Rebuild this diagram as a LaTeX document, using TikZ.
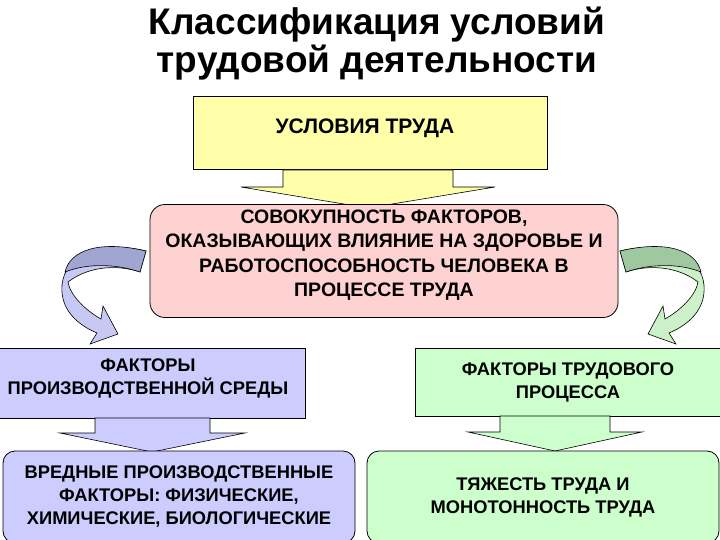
\documentclass[tikz,border=0pt]{standalone}
\usepackage{fontspec}
\setmainfont{Liberation Sans}
\begin{document}
\begin{tikzpicture}[x=1pt,y=-1pt,
  box/.style={draw=black,line width=0.8pt,align=center,inner sep=0pt,font=\fontsize{18.3}{23}\selectfont\bfseries},
  arr/.style={draw=black,line width=0.6pt}]
\useasboundingbox (0,0) rectangle (720,540);
\node[font=\fontsize{37}{38}\selectfont\bfseries,align=center] (title) at (377,44) {Классификация условий\\трудовой деятельности};
% yellow box
\node[box,fill={rgb,255:red,255;green,255;blue,170},minimum width=354pt,minimum height=73pt] (b1) at (370,133) {};
\node[font=\fontsize{21}{24}\selectfont\bfseries] (t1) at (365,128) {УСЛОВИЯ ТРУДА};
\draw[arr,fill={rgb,255:red,255;green,255;blue,170}] (283,170) -- (453,170) -- (453,187) -- (495,187) -- (368,208) -- (241,187) -- (283,187) -- cycle;
% pink box
\node[box,font=\fontsize{19.5}{24.5}\selectfont\bfseries,fill={rgb,255:red,255;green,210;blue,210},rounded corners=15pt,minimum width=468pt,minimum height=113pt] (b2) at (384,261) {};
\node[font=\fontsize{19.5}{24.5}\selectfont\bfseries,align=center] (t2) at (384,255) {СОВОКУПНОСТЬ ФАКТОРОВ,\\ОКАЗЫВАЮЩИХ ВЛИЯНИЕ НА ЗДОРОВЬЕ И\\РАБОТОСПОСОБНОСТЬ ЧЕЛОВЕКА В\\ПРОЦЕССЕ ТРУДА};
% left column
\node[box,fill={rgb,255:red,204;green,204;blue,255},minimum width=310pt,minimum height=70pt] (b3) at (150,383) {};
\node[font=\fontsize{18.3}{23}\selectfont\bfseries,align=center] (t3) at (148,378) {ФАКТОРЫ\\ПРОИЗВОДСТВЕННОЙ СРЕДЫ};
\draw[arr,fill={rgb,255:red,204;green,204;blue,255}] (95,418) -- (210,418) -- (210,433) -- (245,433) -- (152,452) -- (60,433) -- (95,433) -- cycle;
\node[box,fill={rgb,255:red,204;green,204;blue,255},rounded corners=12pt,minimum width=352pt,minimum height=92pt] (b4) at (179,497) {ВРЕДНЫЕ ПРОИЗВОДСТВЕННЫЕ\\ФАКТОРЫ: ФИЗИЧЕСКИЕ,\\ХИМИЧЕСКИЕ, БИОЛОГИЧЕСКИЕ};
% right column
\node[box,fill={rgb,255:red,204;green,255;blue,204},minimum width=305pt,minimum height=68pt] (b5) at (568,382) {ФАКТОРЫ ТРУДОВОГО\\ПРОЦЕССА};
\draw[arr,fill={rgb,255:red,204;green,255;blue,204}] (500,416) -- (610,416) -- (610,432) -- (642,432) -- (555,451) -- (468,432) -- (500,432) -- cycle;
\node[box,fill={rgb,255:red,204;green,255;blue,204},rounded corners=12pt,minimum width=352pt,minimum height=92pt] (b6) at (543,497) {ТЯЖЕСТЬ ТРУДА И\\МОНОТОННОСТЬ ТРУДА};
% curved arrows
\draw[arr,fill={rgb,255:red,200;green,200;blue,245}] (146,251) .. controls (100,240) and (65,255) .. (62,285) .. controls (60,310) and (78,325) .. (97,333) -- (90,344) -- (118,334) -- (103,306) -- (101,319) .. controls (85,310) and (70,295) .. (68,282) .. controls (90,265) and (120,265) .. (140,272) -- cycle;
\draw[arr,fill={rgb,255:red,160;green,165;blue,210}] (146,251) .. controls (100,240) and (70,250) .. (65,272) .. controls (90,262) and (120,265) .. (140,272) -- cycle;
\begin{scope}[xshift=766pt,xscale=-1]
\draw[arr,fill={rgb,255:red,204;green,240;blue,200}] (146,251) .. controls (100,240) and (65,255) .. (62,285) .. controls (60,310) and (78,325) .. (97,333) -- (90,344) -- (118,334) -- (103,306) -- (101,319) .. controls (85,310) and (70,295) .. (68,282) .. controls (90,265) and (120,265) .. (140,272) -- cycle;
\draw[arr,fill={rgb,255:red,160;green,200;blue,160}] (146,251) .. controls (100,240) and (70,250) .. (65,272) .. controls (90,262) and (120,265) .. (140,272) -- cycle;
\end{scope}
\end{tikzpicture}
\end{document}
